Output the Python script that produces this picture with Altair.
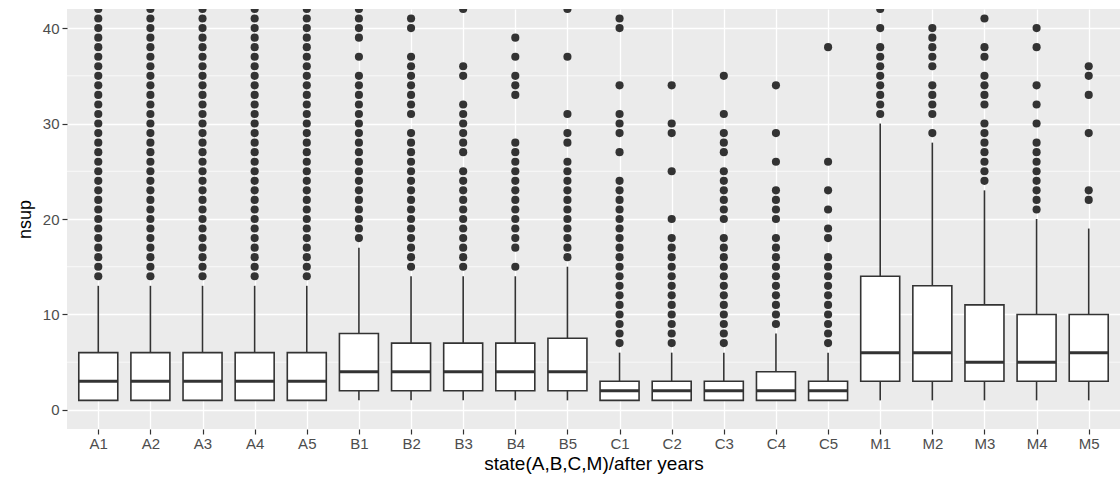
import altair as alt
import pandas as pd

# ---- data ----
cats = ["A1", "A2", "A3", "A4", "A5",
        "B1", "B2", "B3", "B4", "B5",
        "C1", "C2", "C3", "C4", "C5",
        "M1", "M2", "M3", "M4", "M5"]
q1 = [1, 1, 1, 1, 1, 2, 2, 2, 2, 2, 1, 1, 1, 1, 1, 3, 3, 3, 3, 3]
med = [3, 3, 3, 3, 3, 4, 4, 4, 4, 4, 2, 2, 2, 2, 2, 6, 6, 5, 5, 6]
q3 = [6, 6, 6, 6, 6, 8, 7, 7, 7, 7.5, 3, 3, 3, 4, 3, 14, 13, 11, 10, 10]
lo = [1] * 20
hi = [13, 13, 13, 13, 13, 17, 14, 14, 14, 15, 6, 6, 6, 8, 6, 30, 28, 23, 20, 19]

A_out = [14, 15, 16, 17, 18, 19, 20, 21, 22, 23, 24, 25, 26, 27, 28, 29, 30,
         31, 32, 33, 34, 35, 36, 37, 38, 39, 40, 41, 42]
outliers = {
    "A1": A_out, "A2": A_out, "A3": A_out, "A4": A_out, "A5": A_out,
    "B1": [18, 19, 20, 21, 22, 23, 24, 25, 26, 27, 28, 29, 30, 31, 32, 33, 34, 35,
           37, 39, 40, 41, 42],
    "B2": [15, 16, 17, 18, 19, 20, 21, 22, 23, 24, 25, 26, 27, 28, 29,
           31, 32, 33, 34, 35, 36, 37, 40, 41],
    "B3": [15, 16, 17, 18, 19, 20, 21, 22, 23, 24, 25, 27, 28, 29, 30, 31, 32,
           35, 36, 42],
    "B4": [15, 17, 18, 19, 20, 21, 22, 23, 24, 25, 26, 27, 28, 33, 34, 35, 37, 39],
    "B5": [16, 17, 18, 19, 20, 21, 22, 23, 24, 25, 26, 28, 29, 31, 37, 42],
    "C1": [7, 8, 9, 10, 11, 12, 13, 14, 15, 16, 17, 18, 19, 20, 21, 22, 23, 24,
           27, 29, 30, 31, 34, 40, 41],
    "C2": [7, 8, 9, 10, 11, 12, 13, 14, 15, 16, 17, 18, 20, 25, 29, 30, 34],
    "C3": [7, 8, 9, 10, 11, 12, 13, 14, 15, 16, 17, 18, 20, 21, 22, 23, 24, 25,
           27, 28, 29, 31, 35],
    "C4": [9, 10, 11, 12, 13, 14, 15, 16, 17, 18, 20, 21, 22, 23, 26, 29, 34],
    "C5": [7, 8, 9, 10, 11, 12, 13, 14, 15, 16, 18, 19, 21, 23, 26, 38],
    "M1": [31, 32, 33, 34, 35, 36, 37, 38, 40, 42],
    "M2": [29, 31, 32, 33, 34, 36, 37, 38, 39, 40],
    "M3": [24, 25, 26, 27, 28, 29, 30, 32, 33, 34, 35, 37, 38, 41],
    "M4": [21, 22, 23, 24, 25, 26, 27, 28, 30, 32, 34, 38, 40],
    "M5": [22, 23, 29, 33, 35, 36],
}
y_ticks = [0, 10, 20, 30, 40]
y_minor = [5, 15, 25, 35]

# ---- tables ----
summary = pd.DataFrame({"state": cats, "q1": q1, "med": med, "q3": q3,
                        "lo": lo, "hi": hi})
pts = pd.DataFrame([{"state": c, "nsup": v} for c in cats for v in outliers[c]])
minor = pd.DataFrame({"v": y_minor})

FONT = "Liberation Sans"
DARK = "#333333"

xenc = alt.X("state:N", sort=cats,
             scale=alt.Scale(type="point", padding=0.6),
             axis=alt.Axis(title="state(A,B,C,M)/after years", labelAngle=0,
                           grid=True, gridColor="white", gridWidth=1.3,
                           domain=False, tickColor=DARK, tickSize=5, tickWidth=1.2,
                           labelColor="#4D4D4D", labelFontSize=15, labelFont=FONT,
                           labelPadding=2, titleFont=FONT, titleFontSize=19,
                           titleFontWeight="normal", titleColor="black",
                           titlePadding=3))
yscale = alt.Scale(domain=[-2, 42], nice=False, zero=False)
yaxis = alt.Axis(title="nsup", values=y_ticks, grid=True, gridColor="white",
                 gridWidth=1.3, domain=False, tickColor=DARK, tickSize=5,
                 tickWidth=1.2, labelColor="#4D4D4D", labelFontSize=15,
                 labelFont=FONT, labelPadding=3, titleFont=FONT,
                 titleFontSize=18, titleFontWeight="normal", titleColor="black",
                 titlePadding=8)

base = alt.Chart(summary)

minor_grid = alt.Chart(minor).mark_rule(color="white", strokeWidth=0.7).encode(
    y=alt.Y("v:Q", scale=yscale, axis=yaxis))

whisk_hi = base.mark_rule(color=DARK, strokeWidth=1.6).encode(
    x=xenc, y=alt.Y("q3:Q", scale=yscale, axis=yaxis), y2="hi:Q")
whisk_lo = base.mark_rule(color=DARK, strokeWidth=1.6).encode(
    x=xenc, y=alt.Y("lo:Q", scale=yscale, axis=yaxis), y2="q1:Q")
box = base.mark_bar(size=39, fill="white", stroke=DARK, strokeWidth=1.6,
                    opacity=1).encode(
    x=xenc, y=alt.Y("q1:Q", scale=yscale, axis=yaxis), y2="q3:Q")
median = base.mark_tick(color=DARK, size=39, thickness=3, orient="horizontal",
                        opacity=1).encode(
    x=xenc, y=alt.Y("med:Q", scale=yscale, axis=yaxis))
points = alt.Chart(pts).mark_circle(color=DARK, opacity=1, size=66, clip=True).encode(
    x=xenc, y=alt.Y("nsup:Q", scale=yscale, axis=yaxis))

chart = alt.layer(minor_grid, whisk_lo, whisk_hi, box, median, points).properties(
    width=1053, height=420,
    background="white",
    autosize=alt.AutoSizeParams(type="none"),
    padding={"left": 67, "top": 9, "right": 0, "bottom": 49},
).configure_view(fill="#EBEBEB", stroke=None)

chart.save("out.html", embed_options={"renderer": "svg", "actions": False})
